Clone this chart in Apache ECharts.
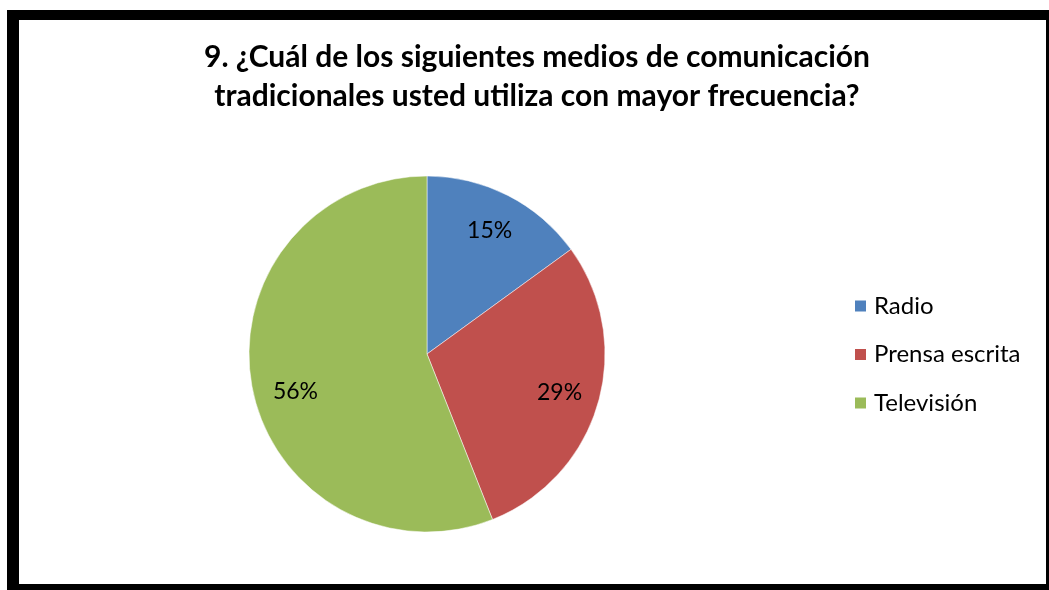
<!DOCTYPE html>
<html>
<head>
<meta charset="utf-8">
<script src="https://cdn.jsdelivr.net/npm/echarts@6/dist/echarts.min.js"></script>
<style>
  html, body { margin: 0; padding: 0; background: #ffffff; }
  #chart { width: 1049px; height: 590px; }
</style>
</head>
<body>
<div id="chart"></div>
<script>
// Survey question 9: most used traditional media
const titleLines = [
  '9. ¿Cuál de los siguientes medios de comunicación',
  'tradicionales usted utiliza con mayor frecuencia?'
];
const categories = ['Radio', 'Prensa escrita', 'Televisión'];
const shares = [15, 29, 56];
const colors = ['#4F81BD', '#C0504D', '#9BBB59'];

const FONT = 'Lato, "Open Sans", sans-serif';

const slices = categories.map((name, i) => ({ name, value: shares[i] }));

// label slices: same values, the large slice's label sits a little lower
const labelSlices = slices.map((d, i) => (
  i === 2 ? Object.assign({}, d, { label: { offset: [4, 12] } }) : d
));

const chart = echarts.init(document.getElementById('chart'), null, { renderer: 'canvas' });

chart.setOption({
  backgroundColor: '#ffffff',
  animation: false,
  color: colors,
  title: {
    text: titleLines.join('\n'),
    left: 532,
    textAlign: 'center',
    top: 33,
    textStyle: {
      fontFamily: FONT,
      fontWeight: 'bold',
      fontSize: 30,
      lineHeight: 39,
      color: '#000000'
    }
  },
  legend: {
    orient: 'vertical',
    left: 848,
    top: 289,
    itemWidth: 13,
    itemHeight: 13,
    itemGap: 24.5,
    icon: 'rect',
    data: categories,
    textStyle: {
      fontFamily: FONT,
      fontSize: 24,
      lineHeight: 24,
      color: '#000000',
      padding: [0, 0, 0, 2]
    }
  },
  graphic: [
    // chart frame
    { type: 'rect', shape: { x: 7, y: 10, width: 1042, height: 10 }, style: { fill: '#000' } },
    { type: 'rect', shape: { x: 7, y: 10, width: 12, height: 580 }, style: { fill: '#000' } },
    { type: 'rect', shape: { x: 7, y: 584, width: 1042, height: 6 }, style: { fill: '#000' } },
    { type: 'rect', shape: { x: 1046, y: 10, width: 3, height: 580 }, style: { fill: '#000' } }
  ],
  series: [
    {
      type: 'pie',
      center: [427, 354],
      radius: [0, 178],
      startAngle: 90,
      clockwise: true,
      label: { show: false },
      labelLine: { show: false },
      itemStyle: { borderColor: '#ffffff', borderWidth: 0.5 },
      emphasis: { disabled: true },
      data: slices
    },
    {
      // percentage labels placed inside each slice
      type: 'pie',
      silent: true,
      center: [427, 354],
      radius: [92, 178],
      startAngle: 90,
      clockwise: true,
      itemStyle: { color: 'rgba(0,0,0,0)' },
      label: {
        show: true,
        position: 'inside',
        formatter: '{c}%',
        fontFamily: FONT,
        fontSize: 23,
        color: '#000000'
      },
      labelLine: { show: false },
      emphasis: { disabled: true },
      data: labelSlices
    }
  ]
});
</script>
</body>
</html>
